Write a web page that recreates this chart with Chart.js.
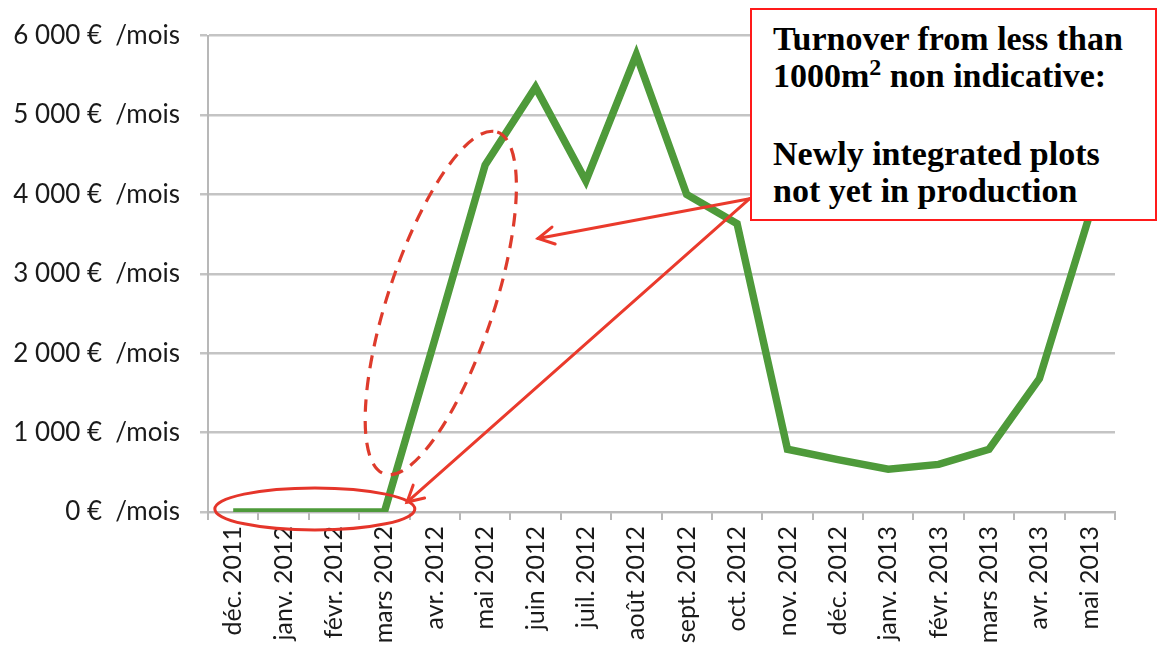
<!DOCTYPE html>
<html>
<head>
<meta charset="utf-8">
<script src="https://cdn.jsdelivr.net/npm/chart.js@4"></script>
<style>
  html,body{margin:0;padding:0;background:#fff;}
  #wrap{position:relative;width:1158px;height:670px;}
  #note{position:absolute;left:750px;top:8px;width:407px;height:213px;border:2px solid #ff1a1a;background:#fff;
        font-family:"Liberation Serif",serif;font-weight:bold;font-size:34px;line-height:37px;color:#000;
        padding:10px 0 0 21px;box-sizing:border-box;white-space:nowrap;}
  #note .sup{font-size:24px;position:relative;top:-12px;}
</style>
</head>
<body>
<div id="wrap">
<canvas id="c" width="1158" height="670"></canvas>
<div id="note">Turnover from less than<br>1000m<span class="sup">2</span> non indicative:<br><br>Newly integrated plots<br>not yet in production</div>
</div>
<script>
const categories = ['déc. 2011','janv. 2012','févr. 2012','mars 2012','avr. 2012','mai 2012','juin 2012','juil. 2012','août 2012','sept. 2012','oct. 2012','nov. 2012','déc. 2012','janv. 2013','févr. 2013','mars 2013','avr. 2013','mai 2013'];
const turnover = [0,0,0,0,2170,4370,5350,4170,5760,4000,3630,790,660,540,600,790,1680,3750];
const yTickLabels = ['0 €  /mois','1 000 €  /mois','2 000 €  /mois','3 000 €  /mois','4 000 €  /mois','5 000 €  /mois','6 000 €  /mois'];

// annotation anchors in data units (category index, value)
const dashedEllipseEnds = [[5.24,4785],[3.0,480]];
const solidEllipseCenter = [1.62,38];
const arrowStart = [10.25,3946];
const arrowEnds = [[6.05,3445],[3.45,125]];

const annotate = {
  id:'annotate',
  afterDatasetsDraw(chart){
    const {ctx, scales:{x,y}} = chart;
    const P = p => [x.getPixelForValue(p[0]), y.getPixelForValue(p[1])];
    ctx.save();
    // dashed ellipse
    const a = P(dashedEllipseEnds[0]), b = P(dashedEllipseEnds[1]);
    const cx=(a[0]+b[0])/2, cy=(a[1]+b[1])/2;
    const rx=Math.hypot(a[0]-b[0],a[1]-b[1])/2;
    const rot=Math.atan2(a[1]-b[1],a[0]-b[0]);
    ctx.strokeStyle='#de3b2c'; ctx.lineWidth=3.2; ctx.setLineDash([13,9]);
    ctx.beginPath(); ctx.ellipse(cx,cy,rx,53,rot,0,Math.PI*2); ctx.stroke();
    ctx.setLineDash([]);
    // solid ellipse
    const s = P(solidEllipseCenter);
    ctx.strokeStyle='#e5352a'; ctx.lineWidth=3;
    ctx.beginPath(); ctx.ellipse(s[0],s[1],100,21,0,0,Math.PI*2); ctx.stroke();
    // arrows
    const st = P(arrowStart);
    ctx.strokeStyle='#ea3a2c'; ctx.lineWidth=3; ctx.lineCap='round';
    arrowEnds.forEach(e=>{
      const t=P(e);
      ctx.beginPath(); ctx.moveTo(st[0],st[1]); ctx.lineTo(t[0],t[1]); ctx.stroke();
      const ang=Math.atan2(st[1]-t[1],st[0]-t[0]);
      const L=18, w=0.5;
      ctx.beginPath();
      ctx.moveTo(t[0]+L*Math.cos(ang+w), t[1]+L*Math.sin(ang+w));
      ctx.lineTo(t[0],t[1]);
      ctx.lineTo(t[0]+L*Math.cos(ang-w), t[1]+L*Math.sin(ang-w));
      ctx.stroke();
    });
    ctx.restore();
  }
};

new Chart(document.getElementById('c'), {
  type:'line',
  data:{
    labels:categories,
    datasets:[{
      data:turnover,
      borderColor:'#4e9a3a',
      borderWidth:7.5,
      borderJoinStyle:'miter',
      borderCapStyle:'butt',
      pointRadius:0,
      tension:0,
      fill:false
    }]
  },
  options:{
    responsive:false,
    animation:false,
    devicePixelRatio:1,
    layout:{padding:{top:33,right:43,left:0,bottom:0}},
    plugins:{legend:{display:false},tooltip:{enabled:false}},
    scales:{
      x:{
        offset:true,
        grid:{offset:true,drawOnChartArea:false,drawTicks:true,tickLength:8,color:'#b8b8b8',lineWidth:2},
        border:{color:'#b8b8b8',width:2},
        ticks:{maxRotation:90,minRotation:90,autoSkip:false,padding:6,color:'#1a1a1a',
               font:{family:'Lato',size:25}},
        afterFit(s){s.height=158;}
      },
      y:{
        min:0,max:6000,
        grid:{color:'#c4c4c4',lineWidth:2.5,tickLength:8},
        border:{color:'#b8b8b8',width:2},
        ticks:{stepSize:1000,padding:20,color:'#1a1a1a',font:{family:'Lato',size:26},
               callback:(v,i)=>yTickLabels[i]},
        afterFit(s){s.width=208;}
      }
    }
  },
  plugins:[annotate]
});
</script>
</body>
</html>
